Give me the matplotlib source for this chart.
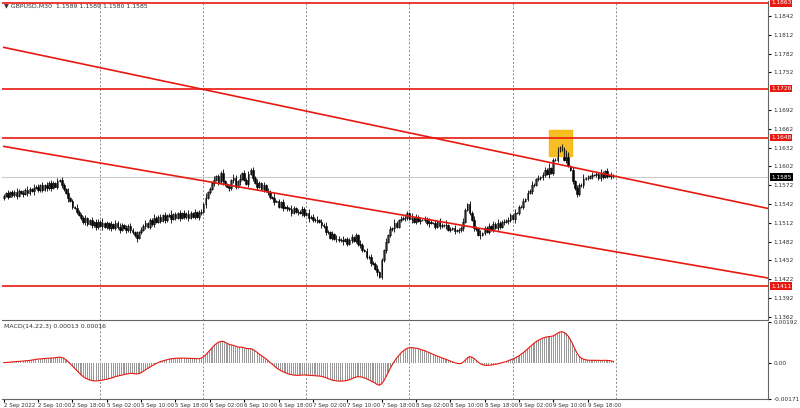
import matplotlib
matplotlib.use("Agg")
import matplotlib.pyplot as plt
import numpy as np

closes_pips = [555,559,554,561,556,562,555,563,560,558,565,559,566,563,567,
570,564,572,565,573,567,575,568,576,570,579,580,572,
566,560,552,547,537,536,530,524,
520,513,519,510,516,508,513,505,514,507,512,
505,511,503,510,504,512,505,501,509,503,500,507,500,497,
492,488,497,501,
507,511,506,516,510,520,514,522,515,524,517,523,
525,518,526,520,527,519,528,521,526,520,528,522,529,521,527,530,
542,552,561,566,576,581,586,576,
592,578,574,570,567,580,584,569,
578,582,592,581,574,590,597,583,576,570,576,566,
572,563,561,553,552,546,547,538,545,536,537,535,534,528,536,529,530,528,
534,525,527,520,522,516,517,516,514,508,
507,498,497,488,494,486,487,485,484,483,486,478,485,489,
483,492,478,477,468,467,458,457,448,447,
438,434,426,452,468,482,493,502,
503,512,506,517,518,520,520,527,
518,520,513,522,515,516,517,518,511,513,512,512,506,514,507,508,508,509,
501,502,503,499,500,500,504,514,533,542,
528,517,503,502,493,492,496,504,
498,507,501,510,504,512,505,514,513,515,516,524,518,527,528,537,
538,547,550,560,563,572,573,582,583,585,588,597,
590,600,592,612,613,627,633,630,
613,622,603,597,578,567,558,572,
573,582,583,584,586,588,588,590,583,592,585,594,587,588,586,587]
wick_pips = [6,4,9,3,7,5,10,5,3,8,4,9,6,4,12,3]

price_ticks = [1.1842,1.1812,1.1782,1.1752,1.1692,1.1662,1.1632,1.1602,1.1572,1.1542,1.1512,1.1482,1.1452,1.1422,1.1392,1.1362]
red_levels = [1.1863,1.1726,1.1648,1.1411]
last_price = 1.1585
time_labels = ["2 Sep 2022","2 Sep 10:00","2 Sep 18:00","5 Sep 02:00","5 Sep 10:00","5 Sep 18:00",
"6 Sep 02:00","6 Sep 10:00","6 Sep 18:00","7 Sep 02:00","7 Sep 10:00","7 Sep 18:00",
"8 Sep 02:00","8 Sep 10:00","8 Sep 18:00","9 Sep 02:00","9 Sep 10:00","9 Sep 18:00"]
upper_line = [(0,1.1792),(356,1.1535)]
lower_line = [(0,1.1634),(356,1.1424)]

c = 1.1 + np.array(closes_pips)/1e4
o = np.concatenate([[c[0]-0.0003], c[:-1]])
n = len(c)
w = np.array([wick_pips[i % len(wick_pips)] for i in range(n)])/1e4
hi = np.maximum(o,c) + w*0.6
lo = np.minimum(o,c) - w*0.5
x = np.arange(n)

AXW = 0.958
fig = plt.figure(figsize=(8,4.08), dpi=100)
ax = fig.add_axes([0.002, 1-320/408, AXW, 319/408])
ymin, ymax = 1.1357, 1.1866
XMAX = 356
ax.set_xlim(-1, XMAX); ax.set_ylim(ymin, ymax)
for xv in range(45, 300, 48):
    ax.axvline(xv, color='#888888', ls=(0,(2,2)), lw=0.7, zorder=0)
ax.axhline(last_price, color='#cccccc', lw=0.8, zorder=0)
ax.vlines(x, lo, hi, color='black', lw=0.6)
up = c >= o
ax.bar(x[up], (c-o)[up], bottom=o[up], width=0.8, color='white', edgecolor='black', lw=0.4)
ax.bar(x[~up], (o-c)[~up], bottom=c[~up], width=0.8, color='black', edgecolor='black', lw=0.4)
for lv in red_levels:
    ax.axhline(lv, color='#e8190f', lw=1.2)
for ln in (upper_line, lower_line):
    ax.plot([ln[0][0], ln[1][0]], [ln[0][1], ln[1][1]], color='#e8190f', lw=1.2)
ax.add_patch(plt.Rectangle((254, 1.1619), 10.5, 0.0041, color='#f5b400', alpha=0.85, zorder=1))
ax.set_xticks([]); ax.yaxis.tick_right()
ax.set_yticks(price_ticks)
ax.set_yticklabels([f"{p:.4f}" for p in price_ticks], fontsize=4.2, color='#333333')
ax.tick_params(axis='y', length=2, pad=2)
for lv in red_levels:
    ax.text(1.004, (lv-ymin)/(ymax-ymin), f"{lv:.4f}", transform=ax.transAxes, fontsize=4.2, color='white',
            va='center', ha='left', bbox=dict(boxstyle='square,pad=0.2', fc='#e8190f', ec='none'))
ax.text(1.004, (last_price-ymin)/(ymax-ymin), f"{last_price:.4f}", transform=ax.transAxes, fontsize=4.2, color='white',
        va='center', ha='left', bbox=dict(boxstyle='square,pad=0.2', fc='black', ec='none'))
ax.text(0.003, 0.993, "▼ GBPUSD,M30  1.1589 1.1589 1.1580 1.1585", transform=ax.transAxes, fontsize=4.5, va='top', color='#333333')
for s in ['top','left']:
    ax.spines[s].set_visible(False)
ax.spines['right'].set_color('#666666'); ax.spines['bottom'].set_color('#666666')

def ema(a, p):
    k = 2/(p+1); out = np.empty_like(a); out[0] = a[0]
    for i in range(1, len(a)): out[i] = a[i]*k + out[i-1]*(1-k)
    return out
macd = ema(c,14) - ema(c,22)
sig = np.convolve(macd, np.ones(3)/3, mode='same')
ax2 = fig.add_axes([0.002, 9/408, AXW, 77/408])
ax2.set_xlim(-1, XMAX); ax2.set_ylim(-0.00171, 0.00192)
ax2.bar(x, macd, width=0.5, color='#999999')
ax2.plot(x, sig, color='#e8190f', lw=0.8)
for xv in range(45, 300, 48):
    ax2.axvline(xv, color='#888888', ls=(0,(2,2)), lw=0.7, zorder=0)
ax2.yaxis.tick_right()
ax2.set_yticks([0.00192, 0.0, -0.00171])
ax2.set_yticklabels(["0.00192","0.00","-0.00171"], fontsize=4.2, color='#333333')
ax2.tick_params(axis='y', length=2, pad=2)
ax2.set_xticks(np.arange(0, 16*len(time_labels), 16))
ax2.set_xticklabels(time_labels, fontsize=4, color='#333333', ha='left')
ax2.tick_params(axis='x', length=2, pad=1)
ax2.text(0.003, 0.97, "MACD(14,22,3) 0.00013 0.00016", transform=ax2.transAxes, fontsize=4.5, va='top', color='#333333')
for s in ['top','left']:
    ax2.spines[s].set_visible(False)
ax2.spines['right'].set_color('#666666'); ax2.spines['bottom'].set_color('#666666')
fig.savefig("out.png", dpi=100, facecolor='white')
